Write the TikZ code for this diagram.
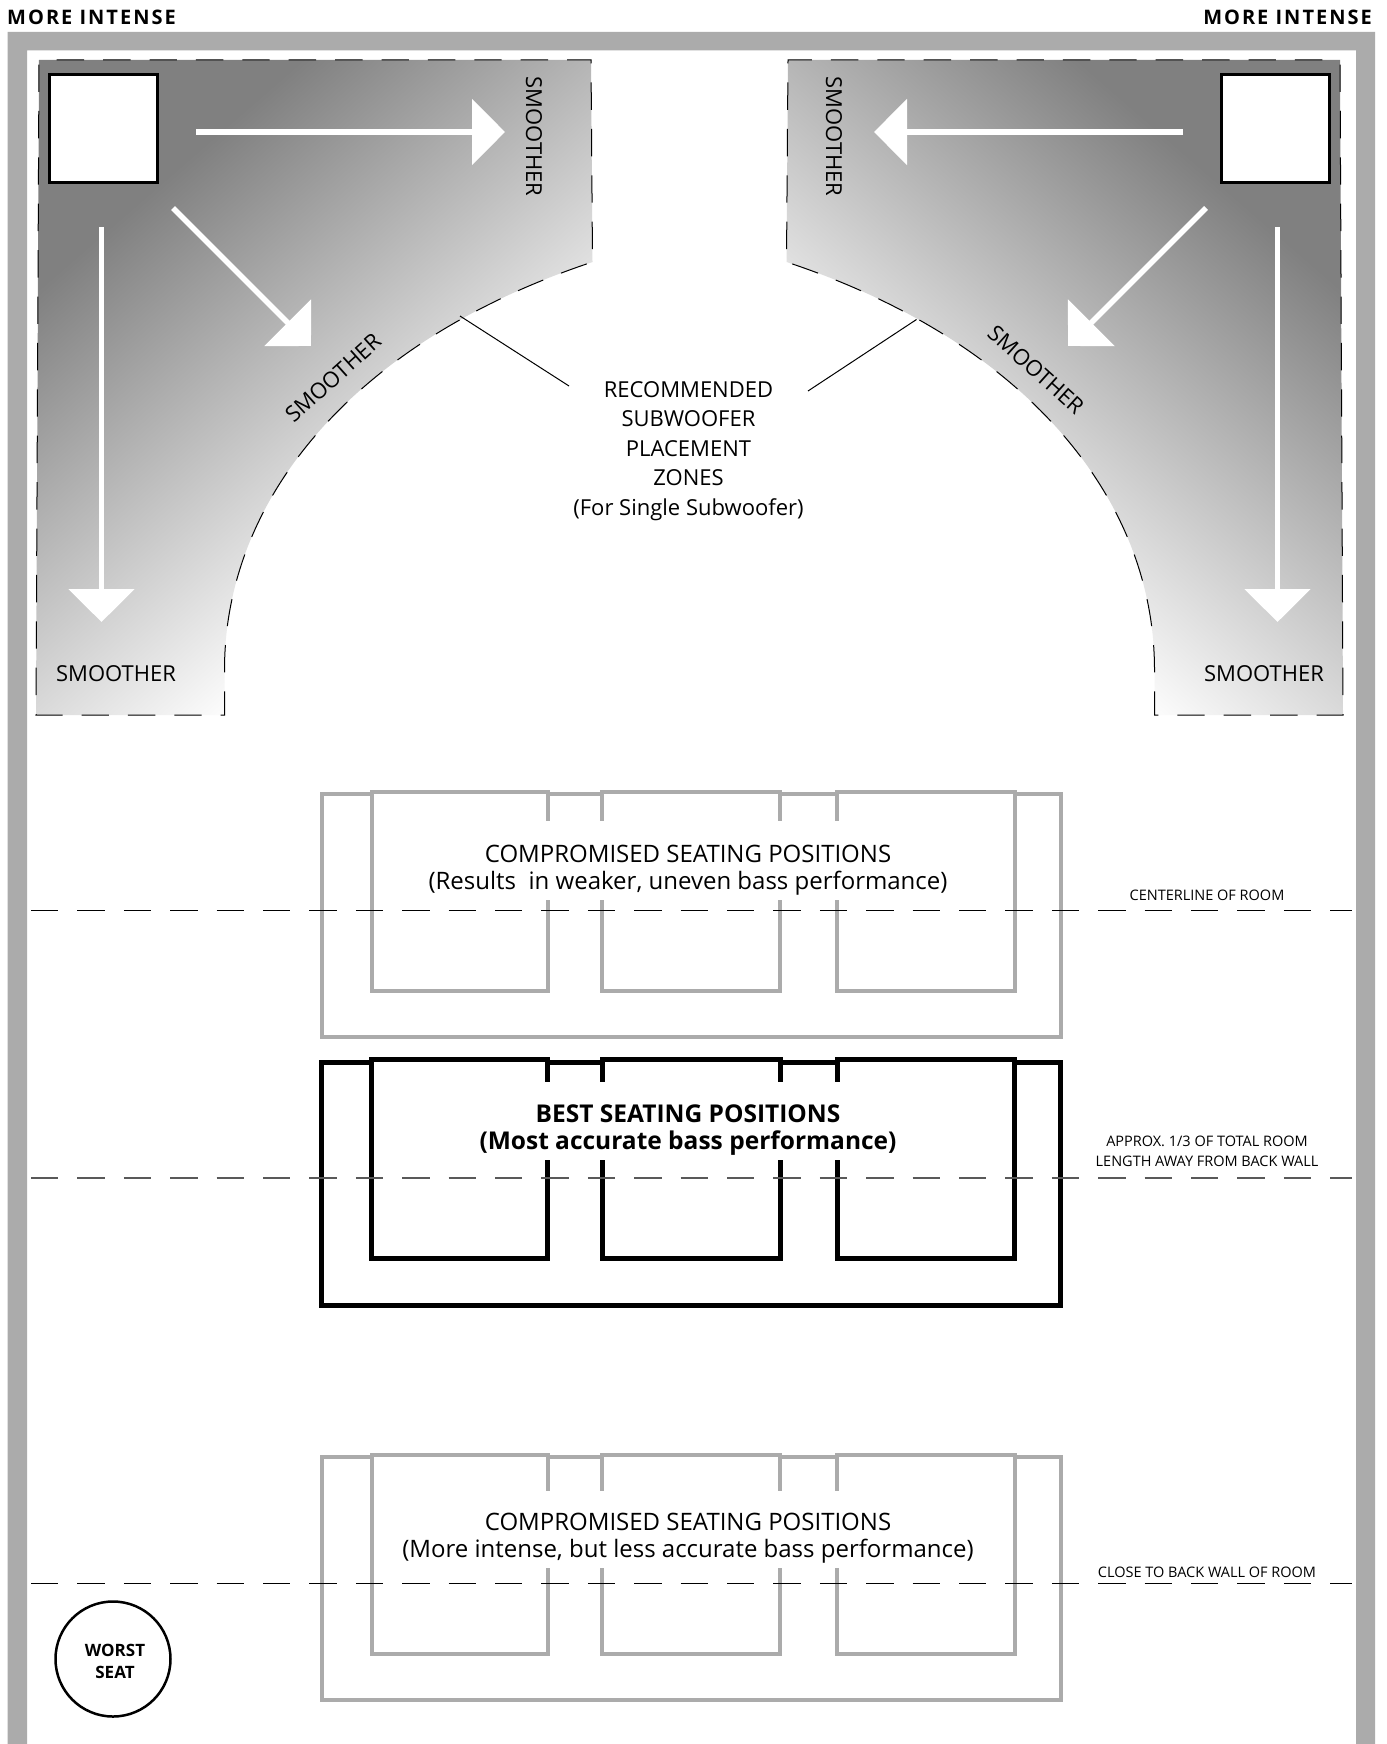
\documentclass[tikz,border=0pt]{standalone}
\usepackage{fontspec}
\setmainfont{Open Sans}
\newfontfamily\spacedfont[LetterSpace=10]{Open Sans}
\usetikzlibrary{arrows.meta}
\definecolor{wallgray}{gray}{0.67}
\pgfdeclarehorizontalshading{zoneramp}{100bp}{rgb(0bp)=(.5,.5,.5);rgb(40bp)=(.5,.5,.5);rgb(60bp)=(.99,.99,.99);rgb(100bp)=(.99,.99,.99)}
\newcommand{\zonearea}{(39,60) -- (591,60) -- (592.5,262) .. controls (357,340) and (224.5,496) .. (224.5,670) -- (224.5,715) -- (36,715) -- cycle}
\tikzset{
    whitearrow/.style={white,line width=5.5pt,-{Triangle[length=33pt,width=65pt]}},
    zonedash/.style={black,line width=1pt,dash pattern=on 27.4pt off 19pt,dash phase=28.7pt},
    roomdash/.style={black,line width=1pt,dash pattern=on 27.4pt off 19pt},
    sofagray/.style={wallgray,line width=4pt,fill=white},
    sofablack/.style={black,line width=5pt,fill=white},
    zonetext/.style={font=\fontsize{22}{29.4}\selectfont,inner sep=0pt,align=center},
    seattext/.style={font=\fontsize{24}{27.5}\selectfont,inner sep=0pt,align=center},
    boldtext/.style={font=\fontsize{24.5}{27.5}\bfseries\selectfont,inner sep=0pt,align=center},
    roomtext/.style={font=\fontsize{14.5}{19.7}\selectfont,inner sep=0pt,align=center},
    topfont/.style={font=\fontsize{20}{22}\bfseries\spacedfont,inner sep=0pt},
}
\begin{document}
\begin{tikzpicture}[x=1pt,y=-1pt]
    \useasboundingbox (0,0) rectangle (1386,1744);
    \fill[white] (0,0) rectangle (1386,1744);
    \fill[wallgray] (7.5,32) -- (1375,32) -- (1375,1744) -- (1356,1744) -- (1356,50.5) -- (27,50.5) -- (27,1744) -- (7.5,1744) -- cycle;

    \foreach \flip/\turn in {1/-49,-1/-131}{
        \begin{scope}[xshift={(1-\flip)*689.5pt},xscale=\flip]
            \begin{scope}
                \clip \zonearea;
                \shade[shading=zoneramp,shading angle=\turn] (-254,-206.7) rectangle (861,908.3);
            \end{scope}
            \draw[zonedash] \zonearea;
            \filldraw[fill=white,draw=black,line width=2.5pt] (49.5,74.5) rectangle (157.5,182.5);
            \coordinate (rightfrom) at (196,132);
            \coordinate (rightto) at (505,132);
            \coordinate (downfrom) at (101.5,227);
            \coordinate (downto) at (101.5,622);
            \coordinate (diagfrom) at (173,208);
            \coordinate (diagto) at (311,346);
            \draw[whitearrow] (rightfrom) -- (rightto);
            \draw[whitearrow] (downfrom) -- (downto);
            \draw[whitearrow] (diagfrom) -- (diagto);
        \end{scope}
    }

    \foreach \rowy/\rowstyle in {0/sofagray,268/sofablack,663/sofagray}{
        \begin{scope}[shift={(0,\rowy)}]
            \draw[\rowstyle] (321.5,794) rectangle (1060.5,1037);
            \foreach \seatl/\seatr in {371.5/547.5,602/780,837/1014.5}{
                \draw[\rowstyle] (\seatl,791.5) rectangle (\seatr,990.5);
            }
        \end{scope}
    }
    \foreach \gaptop/\gapbot in {821/900,1082/1160,1491/1568}{
        \fill[white] (420,\gaptop) rectangle (960,\gapbot);
    }

    \draw[roomdash] (31,910.5) -- (1352,910.5);
    \draw[roomdash,line width=1.5pt,gray!70!black] (31,1178) -- (1352,1178);
    \draw[roomdash] (31,1583) -- (1352,1583);

    \node[topfont] (intenseleft) at (91.5,17) {MORE INTENSE};
    \node[topfont] (intenseright) at (1287.5,17) {MORE INTENSE};

    \node[zonetext,rotate=-90] (smoothera) at (534,136.5) {SMOOTHER};
    \node[zonetext,rotate=-90] (smootherb) at (834,136.5) {SMOOTHER};
    \node[zonetext,rotate=42] (smootherc) at (333,378) {SMOOTHER};
    \node[zonetext,rotate=-42] (smootherd) at (1036,370) {SMOOTHER};
    \node[zonetext] (smoothere) at (116,674) {SMOOTHER};
    \node[zonetext] (smootherf) at (1264,674) {SMOOTHER};

    \node[zonetext] (zones) at (688.5,451) {RECOMMENDED\\SUBWOOFER\\PLACEMENT\\ZONES\\(For Single Subwoofer)};
    \coordinate (leadaedge) at (460,316);
    \coordinate (leadatext) at (569,386);
    \coordinate (leadbedge) at (916.5,319.5);
    \coordinate (leadbtext) at (808,391);
    \draw[line width=1pt] (leadaedge) -- (leadatext);
    \draw[line width=1pt] (leadbedge) -- (leadbtext);

    \node[seattext] (comprotop) at (688,870) {COMPROMISED SEATING POSITIONS\\(Results\ \ in weaker, uneven bass performance)};
    \node[boldtext] (bestseats) at (688,1130) {BEST SEATING POSITIONS\\(Most accurate bass performance)};
    \node[seattext] (comprobot) at (688,1538) {COMPROMISED SEATING POSITIONS\\(More intense, but less accurate bass performance)};

    \node[roomtext] (centerline) at (1207,895) {CENTERLINE OF ROOM};
    \node[roomtext] (onethird) at (1207,1151) {APPROX. 1/3 OF TOTAL ROOM\\LENGTH AWAY FROM BACK WALL};
    \node[roomtext] (closewall) at (1207,1572) {CLOSE TO BACK WALL OF ROOM};

    \node[circle,draw=black,line width=2.5pt,minimum size=115pt,inner sep=0pt] (worstseat) at (113,1659) {};
    \node[align=center,inner sep=0pt,font=\fontsize{17}{22}\bfseries\selectfont] (worstlabel) at (115,1661) {WORST\\SEAT};
\end{tikzpicture}
\end{document}
